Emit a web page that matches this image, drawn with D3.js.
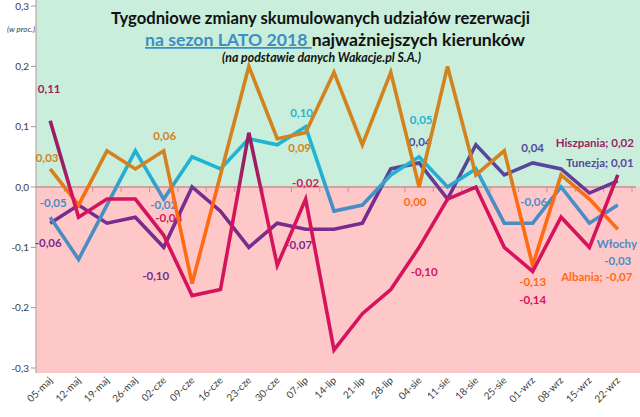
<!DOCTYPE html>
<html><head><meta charset="utf-8">
<script src="https://cdnjs.cloudflare.com/ajax/libs/d3/7.8.5/d3.min.js"></script>
<style>
html,body{margin:0;padding:0;background:#fff;}
svg{display:block;font-family:Lato,"Open Sans",sans-serif;}
</style></head>
<body><svg id="c" width="640" height="417"></svg>
<script>
const categories = ["05-maj","12-maj","19-maj","26-maj","02-cze","09-cze","16-cze","23-cze","30-cze","07-lip","14-lip","21-lip","28-lip","04-sie","11-sie","18-sie","25-sie","01-wrz","08-wrz","15-wrz","22-wrz"];
const hiszpania = [0.11,-0.05,-0.02,-0.02,-0.08,-0.18,-0.17,0.09,-0.13,-0.02,-0.27,-0.21,-0.17,-0.10,-0.02,0.00,-0.10,-0.14,-0.05,-0.10,0.02];
const tunezja   = [-0.06,-0.03,-0.06,-0.05,-0.10,0.00,-0.04,-0.10,-0.06,-0.07,-0.07,-0.06,0.03,0.04,-0.02,0.07,0.02,0.04,0.03,-0.01,0.01];
const wlochy    = [-0.05,-0.12,-0.03,0.06,-0.02,0.05,0.03,0.08,0.07,0.10,-0.04,-0.03,0.02,0.05,0.00,0.03,-0.06,-0.06,0.00,-0.06,-0.03];
const albania   = [0.03,-0.03,0.06,0.03,0.06,-0.16,0.02,0.20,0.08,0.09,0.19,0.07,0.19,0.00,0.20,0.02,0.06,-0.13,0.02,-0.02,-0.07];
const yTicks = [-0.3,-0.2,-0.1,0.0,0.1,0.2,0.3];
const seriesNames = ["Tunezja","Włochy","Albania","Hiszpania"];

// styles (kept separate from data)
const style = {
  "Tunezja":   {pos:"#56479c", neg:"#7a2b8e"},
  "Włochy":    {pos:"#1fb4d6", neg:"#4a8cc4"},
  "Albania":   {pos:"#d2831f", neg:"#ff6a12"},
  "Hiszpania": {pos:"#9b1e63", neg:"#d5145d"}
};
const seriesData = {"Tunezja":tunezja,"Włochy":wlochy,"Albania":albania,"Hiszpania":hiszpania};

// label annotations: series, index, offset
const labels = [
  {s:"Hiszpania",i:0,dx:-1,dy:-28},
  {s:"Albania",i:0,dx:-3,dy:-7},
  {s:"Włochy",i:0,dx:3,dy:-10},
  {s:"Tunezja",i:0,dx:-2,dy:24},
  {s:"Albania",i:4,dx:1,dy:-11},
  {s:"Włochy",i:4,dx:0,dy:10},
  {s:"Hiszpania",i:4,dx:5,dy:-13},
  {s:"Tunezja",i:4,dx:-8,dy:33},
  {s:"Włochy",i:9,dx:-4,dy:-10},
  {s:"Albania",i:9,dx:-6,dy:19},
  {s:"Hiszpania",i:9,dx:0,dy:-12},
  {s:"Tunezja",i:9,dx:-7,dy:20},
  {s:"Włochy",i:13,dx:2,dy:-33},
  {s:"Tunezja",i:13,dx:1,dy:-17},
  {s:"Albania",i:13,dx:-4,dy:19},
  {s:"Hiszpania",i:13,dx:5,dy:29},
  {s:"Tunezja",i:17,dx:0,dy:-11},
  {s:"Włochy",i:17,dx:1,dy:-17},
  {s:"Albania",i:17,dx:0,dy:21},
  {s:"Hiszpania",i:17,dx:0,dy:33},
  {s:"Hiszpania",i:20,dx:-23,dy:-28,name:true},
  {s:"Tunezja",i:20,dx:-18,dy:-14,name:true},
  {s:"Włochy",i:20,dx:-1,dy:43,name:"two"},
  {s:"Albania",i:20,dx:-21,dy:52,name:true}
];

const W=640,H=417;
const svg=d3.select("#c");
const left=36,right=632;
const x=d3.scaleBand().domain(categories).range([left,right]).padding(0);
const y=d3.scaleLinear().domain([-0.3,0.3]).range([368,6]);
const xc=d=>x(d)+x.bandwidth()/2;
const fmt=v=>d3.format(".2f")(v).replace(".",",").replace("−","-");
const fmtAxis=v=>d3.format(".1f")(v).replace(".",",").replace("−","-");

// backgrounds
svg.append("rect").attr("x",left).attr("y",0).attr("width",W-left).attr("height",y(0)).attr("fill","#c9eedb");
svg.append("rect").attr("x",left).attr("y",y(0)).attr("width",W-left).attr("height",373-y(0)).attr("fill","#ffc8c8");

// left axis
const ya=svg.append("g");
ya.append("line").attr("x1",left).attr("x2",left).attr("y1",0).attr("y2",373).attr("stroke","#b9a6a6").attr("stroke-width",1.2);
yTicks.forEach(t=>{
  ya.append("line").attr("x1",left-5).attr("x2",left).attr("y1",y(t)).attr("y2",y(t)).attr("stroke","#999").attr("stroke-width",1);
  ya.append("text").attr("x",29).attr("y",y(t)).attr("dy","0.35em").attr("text-anchor","end")
    .attr("font-size",10).attr("fill","#404040").text(fmtAxis(t));
});
svg.append("text").attr("x",7).attr("y",32).attr("font-size",8).attr("font-style","italic").attr("fill","#404040").text("(w proc.)");

// zero line with ticks
const xa=svg.append("g");
xa.append("line").attr("x1",left).attr("x2",right+4).attr("y1",y(0)).attr("y2",y(0)).attr("stroke","#d08c8c").attr("stroke-width",1.5);
categories.forEach((c,i)=>{
  const bx=x(c)+x.bandwidth();
  xa.append("line").attr("x1",bx).attr("x2",bx).attr("y1",y(0)).attr("y2",y(0)+5).attr("stroke","#d08c8c").attr("stroke-width",1);
});
categories.forEach(c=>{
  svg.append("text").attr("transform",`translate(${xc(c)+3},${381}) rotate(-45)`)
    .attr("text-anchor","end").attr("font-size",10).attr("fill","#404040").text(c);
});

// gradients
const defs=svg.append("defs");
seriesNames.forEach((n,k)=>{
  const g=defs.append("linearGradient").attr("id","g"+k).attr("gradientUnits","userSpaceOnUse")
    .attr("x1",0).attr("x2",0).attr("y1",y(0.03)).attr("y2",y(-0.02));
  g.append("stop").attr("offset",0).attr("stop-color",style[n].pos);
  g.append("stop").attr("offset",1).attr("stop-color",style[n].neg);
});

// labels (under lines)
const lg=svg.append("g").attr("font-weight","bold").attr("font-size",11.5).attr("text-anchor","middle");
labels.forEach(l=>{
  const v=seriesData[l.s][l.i];
  const col=v>0?style[l.s].pos:style[l.s].neg;
  const px=xc(categories[l.i])+l.dx, py=y(v)+l.dy;
  if(l.name==="two"){
    lg.append("text").attr("x",px).attr("y",py).attr("fill",col).text(l.s);
    lg.append("text").attr("x",px+1).attr("y",py+17).attr("fill",col).text(fmt(v));
  } else {
    lg.append("text").attr("x",px).attr("y",py).attr("fill",col).text(l.name?`${l.s}; ${fmt(v)}`:fmt(v));
  }
});

// lines
const line=d3.line().x((d,i)=>xc(categories[i])).y(d=>y(d));
seriesNames.forEach((n,k)=>{
  svg.append("path").datum(seriesData[n]).attr("d",line).attr("fill","none")
    .attr("stroke",`url(#g${k})`).attr("stroke-width",3.6).attr("stroke-linejoin","miter").attr("stroke-linecap","butt");
});

// title
function fit(sel,w){const n=sel.node();const cur=n.getComputedTextLength();const fs=parseFloat(sel.attr("font-size"));sel.attr("font-size",fs*w/cur);}
const t1=svg.append("text").attr("x",320.5).attr("y",24).attr("text-anchor","middle").attr("font-weight","bold").attr("font-size",16).attr("fill","#111").text("Tygodniowe zmiany skumulowanych udziałów rezerwacji");
fit(t1,419);
const t2=svg.append("text").attr("x",335).attr("y",46).attr("text-anchor","middle").attr("font-weight","bold").attr("font-size",16).attr("fill","#111");
t2.append("tspan").attr("fill","#3e8ec2").attr("text-decoration","underline").text("na sezon LATO 2018 ");
t2.append("tspan").text("najważniejszych kierunków");
fit(t2,380);
const t3=svg.append("text").attr("x",321.5).attr("y",62).attr("text-anchor","middle").attr("font-weight","bold").attr("font-style","italic").attr("font-size",10).attr("fill","#111").text("(na podstawie danych Wakacje.pl S.A.)");
fit(t3,199);
</script></body></html>
